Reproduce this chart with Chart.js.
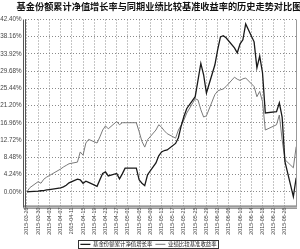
<!DOCTYPE html>
<html>
<head>
<meta charset="utf-8">
<script src="https://cdn.jsdelivr.net/npm/chart.js@4.4.0/dist/chart.umd.min.js"></script>
<style>
html, body { margin: 0; padding: 0; background: #fff; }
</style>
</head>
<body>
<canvas id="myChart" width="300" height="249"></canvas>
<script>
(function () {
    "use strict";

    // trading days shown on the chart
    let dates = [
        '2015-03-26','2015-03-27','2015-03-30','2015-03-31','2015-04-01','2015-04-02','2015-04-03',
        '2015-04-07','2015-04-08','2015-04-09','2015-04-10',
        '2015-04-13','2015-04-14','2015-04-15','2015-04-16','2015-04-17',
        '2015-04-20','2015-04-21','2015-04-22','2015-04-23','2015-04-24',
        '2015-04-27','2015-04-28','2015-04-29','2015-04-30',
        '2015-05-04','2015-05-05','2015-05-06','2015-05-07','2015-05-08',
        '2015-05-11','2015-05-12','2015-05-13','2015-05-14','2015-05-15',
        '2015-05-18','2015-05-19','2015-05-20','2015-05-21','2015-05-22',
        '2015-05-25','2015-05-26','2015-05-27','2015-05-28','2015-05-29',
        '2015-06-01','2015-06-02','2015-06-03','2015-06-04','2015-06-05',
        '2015-06-08','2015-06-09','2015-06-10','2015-06-11','2015-06-12',
        '2015-06-15','2015-06-16','2015-06-17','2015-06-18','2015-06-19',
        '2015-06-23','2015-06-24','2015-06-25','2015-06-26',
        '2015-06-29','2015-06-30'
    ];

    // 基金份额累计净值增长率 (%)
    let navGrowth = [
        0, 0.05, 0.15, 0.25, 0.3, 0.45, 0.55,
        0.98, 1.2, 1.6, 2.2,
        3.1, 2.95, 2.1, 2.6, 2.3,
        1.35, 2.95, 4.5, 4.9, 3.9,
        4.5, 3.2, 4.4, 5.8,
        5.8, 2.95, 2.1, 1.5, 4.2,
        7.1, 8.85, 9.8, 10.15, 10.3,
        11.9, 13.3, 16.2, 18.6, 20.5,
        23.4, 27.5, 31.6, 28.8, 24.3,
        31.2, 34.9, 38.1, 38.4, 37.9,
        35.4, 34.2, 36.4, 37.4, 41.3,
        36.9, 30.5, 33.4, 29.3, 19.4,
        19.7, 21.9, 18.4, 7.4,
        -1.2, 3.4
    ];

    // 业绩比较基准收益率 (%)
    let benchmark = [
        0, 1.0, 2.5, 2.1, 3.1, 3.6, 4.0,
        5.6, 6.1, 6.5, 6.9,
        7.3, 9.8, 9.0, 12.0, 12.9,
        12.0, 13.5, 15.2, 16.2, 15.5,
        17.3, 16.5, 17.0, 17.0,
        17.0, 14.8, 12.4, 11.0, 12.8,
        15.2, 16.5, 15.9, 15.0, 14.3,
        13.2, 15.2, 16.4, 17.7, 19.4,
        22.9, 22.6, 20.2, 18.4, 18.7,
        23.9, 24.8, 25.1, 25.3, 25.9,
        28.2, 27.7, 27.4, 27.8, 28.0,
        25.9, 23.4, 24.7, 22.2, 15.2,
        16.5, 18.9, 12.8, 7.9,
        5.9, 11.1
    ];

    let yTicks = [0, 4.24, 8.48, 12.72, 16.96, 21.20, 25.44, 29.68, 33.92, 38.16, 42.40];
    let titleText = '基金份额累计净值增长率与同期业绩比较基准收益率的历史走势对比图';
    let seriesNames = ['基金份额累计净值增长率', '业绩比较基准收益率'];

    // x position = calendar days from the first date
    let day0 = Date.parse(dates[0] + 'T00:00:00Z');
    let dayOf = d => Math.round((Date.parse(d + 'T00:00:00Z') - day0) / 86400000);
    let dateOf = n => new Date(day0 + n * 86400000).toISOString().slice(0, 10);
    let lastDay = dayOf(dates[dates.length - 1]);
    let xTicks = [];
    for (let n = 0; n < lastDay - 3; n += 4) xTicks.push(n);

    let navPts = dates.map((d, i) => ({x: dayOf(d), y: navGrowth[i]}));
    let benchPts = dates.map((d, i) => ({x: dayOf(d), y: benchmark[i]}));

    let frame = {
        id: 'frame',
        afterDraw(chart) {
            let c = chart.ctx, a = chart.chartArea;
            c.save();
            // title
            c.fillStyle = '#111';
            c.font = 'bold 9.2px "Noto Sans CJK SC"';
            c.textAlign = 'center';
            c.textBaseline = 'middle';
            c.fillText(titleText, 159, 7);
            // right border
            c.strokeStyle = '#999';
            c.lineWidth = 1;
            c.beginPath();
            c.moveTo(a.right - 0.5, a.top);
            c.lineTo(a.right - 0.5, a.bottom);
            c.stroke();
            // double axis lines
            c.strokeStyle = '#555';
            c.beginPath();
            c.moveTo(a.left + 0.5, a.top);
            c.lineTo(a.left + 0.5, a.bottom + 2);
            c.moveTo(a.left - 1.5, a.top);
            c.lineTo(a.left - 1.5, a.bottom + 2);
            c.moveTo(a.left - 1.5, a.bottom + 0.5);
            c.lineTo(a.right, a.bottom + 0.5);
            c.moveTo(a.left - 1.5, a.bottom + 2.5);
            c.lineTo(a.right, a.bottom + 2.5);
            c.stroke();
            // legend box
            let hb = chart.legend.legendHitBoxes;
            if (hb && hb.length) {
                let l = Math.min(...hb.map(h => h.left)) - 2;
                let r = Math.max(...hb.map(h => h.left + h.width)) + 2;
                let t = hb[0].top - 1.5;
                c.strokeStyle = '#333';
                c.strokeRect(Math.round(l) + 0.5, Math.round(t) + 0.5, Math.round(r - l), Math.round(hb[0].height + 3));
            }
            c.restore();
        }
    };

    let ctx = document.getElementById('myChart');
    let chart = new Chart(ctx, {
        type: 'line',
        data: {
            datasets: [
                {
                    label: seriesNames[0],
                    data: navPts,
                    borderColor: '#1a1a1a',
                    backgroundColor: '#1a1a1a',
                    borderWidth: 1.3,
                    pointRadius: 0,
                    tension: 0
                },
                {
                    label: seriesNames[1],
                    data: benchPts,
                    borderColor: '#7a7a7a',
                    backgroundColor: '#7a7a7a',
                    borderWidth: 1,
                    pointRadius: 0,
                    tension: 0
                }
            ]
        },
        options: {
            responsive: false,
            animation: false,
            layout: { padding: { top: 19.5, right: 3, left: 0, bottom: -8 } },
            plugins: {
                title: { display: false },
                tooltip: { enabled: false },
                legend: {
                    position: 'bottom',
                    labels: {
                        usePointStyle: true,
                        pointStyle: 'line',
                        pointStyleWidth: 10,
                        boxHeight: 5,
                        padding: 3,
                        color: '#222',
                        font: { size: 5.4, family: '"Noto Sans CJK SC"' }
                    }
                }
            },
            scales: {
                x: {
                    type: 'linear',
                    min: -0.7,
                    max: lastDay + 0.3,
                    afterBuildTicks: s => { s.ticks = xTicks.map(v => ({value: v})); },
                    afterFit: s => { s.height = 33; },
                    grid: { color: '#8a8a8a', lineWidth: 1, drawTicks: false },
                    border: { display: false, dash: [1, 2] },
                    ticks: {
                        autoSkip: false,
                        minRotation: 90,
                        maxRotation: 90,
                        padding: 2,
                        color: '#444',
                        font: { size: 5.3, family: '"Liberation Sans"' },
                        callback: v => dateOf(v)
                    }
                },
                y: {
                    min: -3.4,
                    max: 42.4,
                    afterBuildTicks: s => { s.ticks = yTicks.map(v => ({value: v})); },
                    afterFit: s => { s.width = 25; },
                    grid: { color: '#8a8a8a', lineWidth: 1, drawTicks: false },
                    border: { display: false, dash: [1, 2] },
                    ticks: {
                        padding: 3.5,
                        color: '#444',
                        font: { size: 6.3, family: '"Liberation Sans"' },
                        callback: v => v.toFixed(2) + '%'
                    }
                }
            }
        },
        plugins: [frame]
    });
})();
</script>
</body>
</html>
